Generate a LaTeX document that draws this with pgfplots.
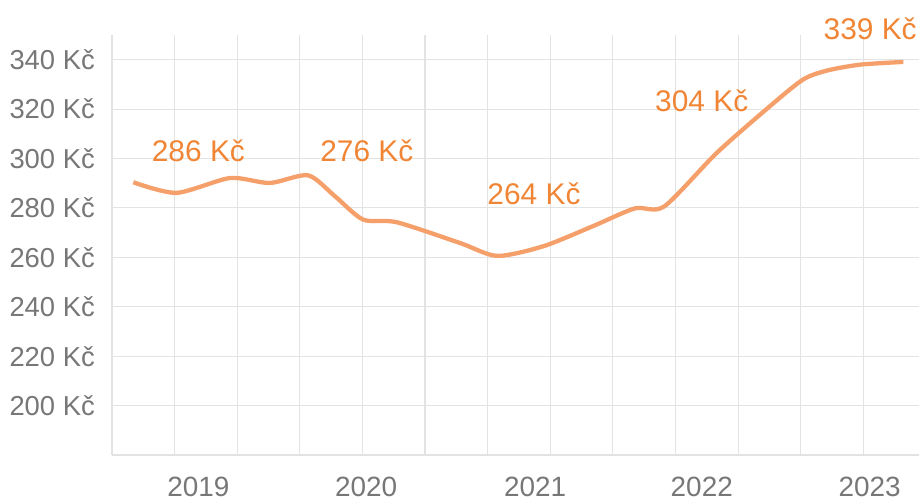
\documentclass[border=0pt]{standalone}
\usepackage{pgfplots}
\pgfplotsset{compat=1.18}
\usepackage{fontspec}
\setmainfont{Liberation Sans}
\definecolor{gridc}{HTML}{E3E3E3}
\definecolor{tickc}{HTML}{777777}
\definecolor{linec}{HTML}{F5A06B}
\definecolor{labc}{HTML}{F08635}
\begin{document}
\begin{tikzpicture}
\begin{axis}[
  scale only axis,
  width=807bp, height=420bp,
  xmin=0, xmax=12.89,
  ymin=180, ymax=350,
  clip=false,
  axis x line*=bottom, axis y line*=left,
  axis line style={draw=gridc, line width=1.1bp, -},
  xtick={0,...,12}, xticklabels={},
  ytick={200,220,...,340},
  major tick length=0pt,
  grid=major,
  major grid style={draw=gridc, line width=1.1bp},
  extra x ticks={1.38,4.06,6.76,9.42,12.10},
  extra x tick labels={2019,2020,2021,2022,2023},
  extra x tick style={grid=none, major tick length=0pt},
  /pgf/number format/assume math mode=true,
  yticklabel={\pgfmathprintnumber{\tick}~Kč},
  yticklabel style={font=\fontsize{27.5}{30}\selectfont, color=tickc, inner sep=0pt, anchor=east, xshift=-17bp},
  xticklabel style={font=\fontsize{28}{30}\selectfont, color=tickc, inner sep=0pt, anchor=north, yshift=-22bp},
]
\addplot[linec, line width=4.3bp, smooth, tension=0.45] coordinates {
  (0.34,290.4) (1.03,286.1) (1.885,292.1) (2.52,290.1) (3.13,293.2)
  (3.55,285.0) (4.01,275.3) (4.55,274.2) (5.56,265.8) (6.15,260.6)
  (6.89,264.5) (7.68,272.6) (8.35,279.8) (8.82,280.6) (9.66,302.3)
  (10.51,321.2) (11.04,332.0) (11.42,335.6) (11.95,338.0) (12.64,339.1)
};
\node[labc, anchor=base, inner sep=0pt, font=\fontsize{30}{32}\selectfont] at (axis cs:1.38,298.9) {286 Kč};
\node[labc, anchor=base, inner sep=0pt, font=\fontsize{30}{32}\selectfont] at (axis cs:4.07,298.9) {276 Kč};
\node[labc, anchor=base, inner sep=0pt, font=\fontsize{30}{32}\selectfont] at (axis cs:6.74,281.3) {264 Kč};
\node[labc, anchor=base, inner sep=0pt, font=\fontsize{30}{32}\selectfont] at (axis cs:9.42,319.1) {304 Kč};
\node[labc, anchor=base, inner sep=0pt, font=\fontsize{30}{32}\selectfont] at (axis cs:12.11,348.1) {339 Kč};
\end{axis}
\pgfresetboundingbox
\path ([xshift=-112bp,yshift=-45bp]current axis.south west) rectangle ([yshift=35bp]current axis.north east);
\end{tikzpicture}
\end{document}
